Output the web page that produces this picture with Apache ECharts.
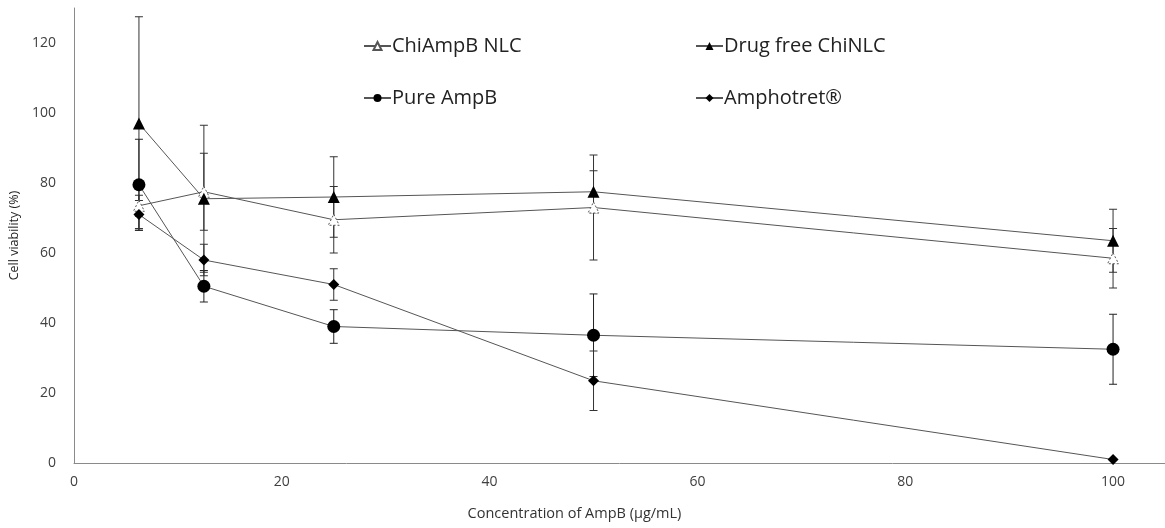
<!DOCTYPE html>
<html>
<head>
<meta charset="utf-8">
<script src="https://cdn.jsdelivr.net/npm/echarts@6/dist/echarts.min.js"></script>
<style>
  html, body { margin: 0; padding: 0; background: #fff; }
  #chart { width: 1165px; height: 528px; }
</style>
</head>
<body>
<div id="chart"></div>
<script>
// concentration of AmpB (ug/mL)
const concentrations = [6.25, 12.5, 25, 50, 100]

// cell viability (%) and error (+/-)
const chiAmpB = [73.5, 77.5, 69.5, 73, 58.5]
const chiAmpBErr = [3, 11, 9.5, 15, 8.5]
const drugFree = [97, 75.5, 76, 77.5, 63.5]
const drugFreeErr = [30.5, 21, 11.5, 6, 9]
const pureAmpB = [79.5, 50.5, 39, 36.5, 32.5]
const pureAmpBErr = [13, 4.5, 4.8, 11.8, 10]
const amphotret = [71, 58, 51, 23.5, 1]
const amphotretErr = [4, 4.5, 4.5, 8.5, 0]

const seriesNames = ['ChiAmpB NLC', 'Drug free ChiNLC', 'Pure AmpB', 'Amphotret®']

const FONT = 'Open Sans'
const LINE = '#555555'

function pairs(values) {
  return concentrations.map((x, i) => [x, values[i]])
}

function errorSeries(values, errs, color) {
  return {
    type: 'custom',
    silent: true,
    z: 1,
    data: concentrations.map((x, i) => [x, values[i] - errs[i], values[i] + errs[i]]),
    renderItem(params, api) {
      const lo = api.coord([api.value(0), api.value(1)])
      const hi = api.coord([api.value(0), api.value(2)])
      if (hi[1] === lo[1]) return null
      const cap = 4
      const style = { stroke: color, lineWidth: 1 }
      return {
        type: 'group',
        children: [
          { type: 'line', shape: { x1: lo[0], y1: lo[1], x2: hi[0], y2: hi[1] }, style },
          { type: 'line', shape: { x1: lo[0] - cap, y1: lo[1], x2: lo[0] + cap, y2: lo[1] }, style },
          { type: 'line', shape: { x1: hi[0] - cap, y1: hi[1], x2: hi[0] + cap, y2: hi[1] }, style }
        ]
      }
    }
  }
}

function lineSeries(name, values, symbol, size, itemStyle) {
  return {
    name,
    type: 'line',
    z: 3,
    data: pairs(values),
    symbol,
    symbolSize: size,
    showAllSymbol: true,
    lineStyle: { color: LINE, width: 1 },
    itemStyle
  }
}

function legendAt(name, left, top) {
  return {
    data: [name],
    left,
    top,
    itemWidth: 27,
    itemHeight: 10,
    selectedMode: false,
    textStyle: { fontFamily: FONT, fontSize: 20, color: '#222', padding: [0, 0, 0, -4] }
  }
}

const chart = echarts.init(document.getElementById('chart'))

chart.setOption({
  animation: false,
  textStyle: { fontFamily: FONT },
  grid: { left: 74, right: 0, top: 8, bottom: 65, containLabel: false },
  legend: [
    legendAt(seriesNames[0], 358, 31),
    legendAt(seriesNames[1], 690, 31),
    legendAt(seriesNames[2], 358, 83),
    legendAt(seriesNames[3], 690, 83)
  ],
  xAxis: {
    type: 'value',
    min: 0,
    max: 105,
    interval: 20,
    name: 'Concentration of AmpB (µg/mL)',
    nameLocation: 'middle',
    nameGap: 43,
    nameTextStyle: { fontFamily: FONT, fontSize: 14.5, color: '#333', padding: [0, 90, 0, 0] },
    axisLine: { show: true, lineStyle: { color: '#8a8a8a', width: 1 } },
    axisTick: { show: false },
    splitLine: { show: false },
    axisLabel: { showMaxLabel: false, margin: 12, fontFamily: FONT, fontSize: 14, color: '#404040' }
  },
  yAxis: {
    type: 'value',
    min: 0,
    max: 130,
    interval: 20,
    name: 'Cell viability (%)',
    nameLocation: 'middle',
    nameRotate: 90,
    nameGap: 47,
    nameTextStyle: { fontFamily: FONT, fontSize: 12.5, color: '#222' },
    axisLine: { show: true, lineStyle: { color: '#8a8a8a', width: 1 } },
    axisTick: { show: false },
    splitLine: { show: false },
    axisLabel: { showMaxLabel: false, margin: 18, fontFamily: FONT, fontSize: 14, color: '#404040' }
  },
  series: [
    errorSeries(chiAmpB, chiAmpBErr, '#333'),
    errorSeries(drugFree, drugFreeErr, '#333'),
    errorSeries(pureAmpB, pureAmpBErr, '#222'),
    errorSeries(amphotret, amphotretErr, '#333'),
    lineSeries(seriesNames[0], chiAmpB, 'triangle', 11,
      { color: '#fff', borderColor: '#555', borderWidth: 1, borderType: [2, 2] }),
    lineSeries(seriesNames[1], drugFree, 'triangle', 12, { color: '#000', borderColor: '#000', borderWidth: 0 }),
    lineSeries(seriesNames[2], pureAmpB, 'circle', 13, { color: '#000', borderColor: '#000', borderWidth: 0 }),
    lineSeries(seriesNames[3], amphotret, 'diamond', 11, { color: '#000', borderColor: '#000', borderWidth: 0 })
  ]
})
</script>
</body>
</html>
